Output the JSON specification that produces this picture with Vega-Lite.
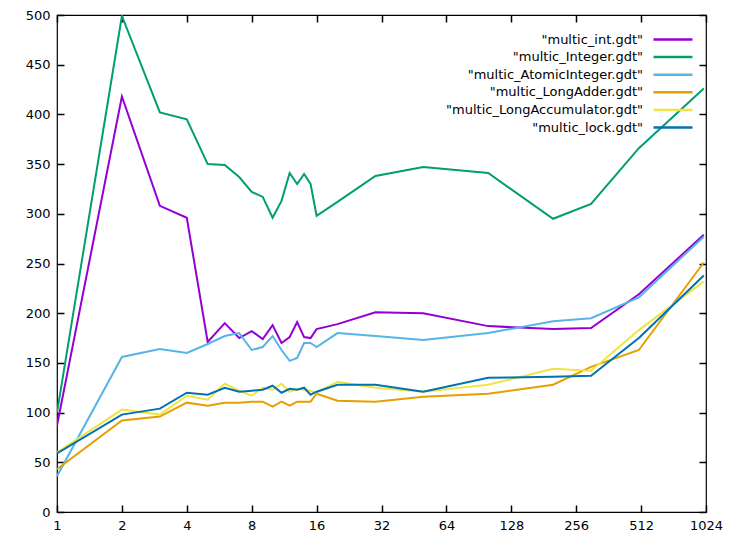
{
  "$schema": "https://vega.github.io/schema/vega-lite/v6.json",
  "width": 649,
  "height": 497,
  "autosize": "none",
  "padding": {"left": 57, "top": 15, "right": 34, "bottom": 22},
  "background": "white",
  "config": {
    "font": "DejaVu Sans",
    "view": {"stroke": "black", "strokeWidth": 1.2},
    "axis": {
      "grid": false,
      "domain": false,
      "labelFont": "DejaVu Sans",
      "labelFontSize": 13,
      "labelColor": "black",
      "labelFlush": false,
      "labelOverlap": false,
      "title": null
    }
  },
  "datasets": {
    "d": [
      {"s":"multic_int.gdt","x":1,"v":87},{"s":"multic_int.gdt","x":2,"v":418},{"s":"multic_int.gdt","x":3,"v":308},{"s":"multic_int.gdt","x":4,"v":296},{"s":"multic_int.gdt","x":5,"v":171},{"s":"multic_int.gdt","x":6,"v":190},{"s":"multic_int.gdt","x":7,"v":175},{"s":"multic_int.gdt","x":8,"v":182},{"s":"multic_int.gdt","x":9,"v":174},{"s":"multic_int.gdt","x":10,"v":188},{"s":"multic_int.gdt","x":11,"v":170},{"s":"multic_int.gdt","x":12,"v":176},{"s":"multic_int.gdt","x":13,"v":191},{"s":"multic_int.gdt","x":14,"v":176},{"s":"multic_int.gdt","x":15,"v":175},{"s":"multic_int.gdt","x":16,"v":184},{"s":"multic_int.gdt","x":20,"v":189},{"s":"multic_int.gdt","x":30,"v":201},{"s":"multic_int.gdt","x":50,"v":200},{"s":"multic_int.gdt","x":100,"v":187},{"s":"multic_int.gdt","x":200,"v":184},{"s":"multic_int.gdt","x":300,"v":185},{"s":"multic_int.gdt","x":500,"v":219},{"s":"multic_int.gdt","x":1000,"v":279},
      {"s":"multic_Integer.gdt","x":1,"v":100},{"s":"multic_Integer.gdt","x":2,"v":499},{"s":"multic_Integer.gdt","x":3,"v":402},{"s":"multic_Integer.gdt","x":4,"v":395},{"s":"multic_Integer.gdt","x":5,"v":350},{"s":"multic_Integer.gdt","x":6,"v":349},{"s":"multic_Integer.gdt","x":7,"v":337},{"s":"multic_Integer.gdt","x":8,"v":322},{"s":"multic_Integer.gdt","x":9,"v":317},{"s":"multic_Integer.gdt","x":10,"v":296},{"s":"multic_Integer.gdt","x":11,"v":313},{"s":"multic_Integer.gdt","x":12,"v":341},{"s":"multic_Integer.gdt","x":13,"v":330},{"s":"multic_Integer.gdt","x":14,"v":340},{"s":"multic_Integer.gdt","x":15,"v":330},{"s":"multic_Integer.gdt","x":16,"v":298},{"s":"multic_Integer.gdt","x":20,"v":312},{"s":"multic_Integer.gdt","x":30,"v":338},{"s":"multic_Integer.gdt","x":50,"v":347},{"s":"multic_Integer.gdt","x":100,"v":341},{"s":"multic_Integer.gdt","x":200,"v":295},{"s":"multic_Integer.gdt","x":300,"v":310},{"s":"multic_Integer.gdt","x":500,"v":366},{"s":"multic_Integer.gdt","x":1000,"v":426},
      {"s":"multic_AtomicInteger.gdt","x":1,"v":36},{"s":"multic_AtomicInteger.gdt","x":2,"v":156},{"s":"multic_AtomicInteger.gdt","x":3,"v":164},{"s":"multic_AtomicInteger.gdt","x":4,"v":160},{"s":"multic_AtomicInteger.gdt","x":5,"v":169},{"s":"multic_AtomicInteger.gdt","x":6,"v":177},{"s":"multic_AtomicInteger.gdt","x":7,"v":180},{"s":"multic_AtomicInteger.gdt","x":8,"v":163},{"s":"multic_AtomicInteger.gdt","x":9,"v":166},{"s":"multic_AtomicInteger.gdt","x":10,"v":177},{"s":"multic_AtomicInteger.gdt","x":11,"v":163},{"s":"multic_AtomicInteger.gdt","x":12,"v":152},{"s":"multic_AtomicInteger.gdt","x":13,"v":155},{"s":"multic_AtomicInteger.gdt","x":14,"v":170},{"s":"multic_AtomicInteger.gdt","x":15,"v":170},{"s":"multic_AtomicInteger.gdt","x":16,"v":166},{"s":"multic_AtomicInteger.gdt","x":20,"v":180},{"s":"multic_AtomicInteger.gdt","x":30,"v":177},{"s":"multic_AtomicInteger.gdt","x":50,"v":173},{"s":"multic_AtomicInteger.gdt","x":100,"v":180},{"s":"multic_AtomicInteger.gdt","x":200,"v":192},{"s":"multic_AtomicInteger.gdt","x":300,"v":195},{"s":"multic_AtomicInteger.gdt","x":500,"v":216},{"s":"multic_AtomicInteger.gdt","x":1000,"v":277},
      {"s":"multic_LongAdder.gdt","x":1,"v":43},{"s":"multic_LongAdder.gdt","x":2,"v":92},{"s":"multic_LongAdder.gdt","x":3,"v":96},{"s":"multic_LongAdder.gdt","x":4,"v":110},{"s":"multic_LongAdder.gdt","x":5,"v":107},{"s":"multic_LongAdder.gdt","x":6,"v":110},{"s":"multic_LongAdder.gdt","x":7,"v":110},{"s":"multic_LongAdder.gdt","x":8,"v":111},{"s":"multic_LongAdder.gdt","x":9,"v":111},{"s":"multic_LongAdder.gdt","x":10,"v":106},{"s":"multic_LongAdder.gdt","x":11,"v":111},{"s":"multic_LongAdder.gdt","x":12,"v":107},{"s":"multic_LongAdder.gdt","x":13,"v":111},{"s":"multic_LongAdder.gdt","x":14,"v":111},{"s":"multic_LongAdder.gdt","x":15,"v":111},{"s":"multic_LongAdder.gdt","x":16,"v":119},{"s":"multic_LongAdder.gdt","x":20,"v":112},{"s":"multic_LongAdder.gdt","x":30,"v":111},{"s":"multic_LongAdder.gdt","x":50,"v":116},{"s":"multic_LongAdder.gdt","x":100,"v":119},{"s":"multic_LongAdder.gdt","x":200,"v":128},{"s":"multic_LongAdder.gdt","x":300,"v":146},{"s":"multic_LongAdder.gdt","x":500,"v":163},{"s":"multic_LongAdder.gdt","x":1000,"v":251},
      {"s":"multic_LongAccumulator.gdt","x":1,"v":60},{"s":"multic_LongAccumulator.gdt","x":2,"v":103},{"s":"multic_LongAccumulator.gdt","x":3,"v":98},{"s":"multic_LongAccumulator.gdt","x":4,"v":117},{"s":"multic_LongAccumulator.gdt","x":5,"v":113},{"s":"multic_LongAccumulator.gdt","x":6,"v":129},{"s":"multic_LongAccumulator.gdt","x":7,"v":122},{"s":"multic_LongAccumulator.gdt","x":8,"v":117},{"s":"multic_LongAccumulator.gdt","x":9,"v":125},{"s":"multic_LongAccumulator.gdt","x":10,"v":123},{"s":"multic_LongAccumulator.gdt","x":11,"v":129},{"s":"multic_LongAccumulator.gdt","x":12,"v":121},{"s":"multic_LongAccumulator.gdt","x":13,"v":124},{"s":"multic_LongAccumulator.gdt","x":14,"v":123},{"s":"multic_LongAccumulator.gdt","x":15,"v":122},{"s":"multic_LongAccumulator.gdt","x":16,"v":120},{"s":"multic_LongAccumulator.gdt","x":20,"v":131},{"s":"multic_LongAccumulator.gdt","x":30,"v":125},{"s":"multic_LongAccumulator.gdt","x":50,"v":121},{"s":"multic_LongAccumulator.gdt","x":100,"v":128},{"s":"multic_LongAccumulator.gdt","x":200,"v":144},{"s":"multic_LongAccumulator.gdt","x":300,"v":142},{"s":"multic_LongAccumulator.gdt","x":500,"v":183},{"s":"multic_LongAccumulator.gdt","x":1000,"v":232},
      {"s":"multic_lock.gdt","x":1,"v":59},{"s":"multic_lock.gdt","x":2,"v":98},{"s":"multic_lock.gdt","x":3,"v":104},{"s":"multic_lock.gdt","x":4,"v":120},{"s":"multic_lock.gdt","x":5,"v":118},{"s":"multic_lock.gdt","x":6,"v":125},{"s":"multic_lock.gdt","x":7,"v":121},{"s":"multic_lock.gdt","x":8,"v":122},{"s":"multic_lock.gdt","x":9,"v":123},{"s":"multic_lock.gdt","x":10,"v":127},{"s":"multic_lock.gdt","x":11,"v":120},{"s":"multic_lock.gdt","x":12,"v":124},{"s":"multic_lock.gdt","x":13,"v":123},{"s":"multic_lock.gdt","x":14,"v":125},{"s":"multic_lock.gdt","x":15,"v":118},{"s":"multic_lock.gdt","x":16,"v":121},{"s":"multic_lock.gdt","x":20,"v":128},{"s":"multic_lock.gdt","x":30,"v":128},{"s":"multic_lock.gdt","x":50,"v":121},{"s":"multic_lock.gdt","x":100,"v":135},{"s":"multic_lock.gdt","x":200,"v":136},{"s":"multic_lock.gdt","x":300,"v":137},{"s":"multic_lock.gdt","x":500,"v":175},{"s":"multic_lock.gdt","x":1000,"v":238}
    ]
  },
  "data": {"name": "d"},
  "layer": [
    {
      "mark": {"type": "line", "strokeWidth": 2, "clip": true},
      "encoding": {
        "x": {"field": "x", "type": "quantitative",
              "scale": {"type": "log", "base": 2, "domain": [1, 1024], "nice": false},
              "axis": {"orient": "bottom", "values": [1,2,4,8,16,32,64,128,256,512,1024], "format": "d", "labelPadding": 7, "offset": -7, "ticks": true, "tickSize": 7, "tickColor": "black", "tickWidth": 1.5}},
        "y": {"field": "v", "type": "quantitative",
              "scale": {"domain": [0, 500], "nice": false, "zero": false},
              "axis": {"orient": "left", "values": [0,50,100,150,200,250,300,350,400,450,500], "labelPadding": 7, "offset": -7, "ticks": true, "tickSize": 7, "tickColor": "black", "tickWidth": 1.5}},
        "color": {"field": "s", "type": "nominal",
                  "scale": {"domain": ["multic_int.gdt","multic_Integer.gdt","multic_AtomicInteger.gdt","multic_LongAdder.gdt","multic_LongAccumulator.gdt","multic_lock.gdt"],
                            "range": ["#9400d3","#009e73","#56b4e9","#e69f00","#f0e442","#0072b2"]},
                  "legend": {"orient": "none", "legendX": 608, "legendY": 16.5, "title": null,
                             "symbolType": "M-3,0H3", "symbolSize": 169, "symbolStrokeWidth": 2.5,
                             "rowPadding": 2.6, "padding": 0,
                             "labelAlign": "right", "labelOffset": -38,
                             "labelFont": "DejaVu Sans", "labelFontSize": 13, "labelColor": "black",
                             "labelLimit": 400,
                             "labelExpr": "'\"' + datum.label + '\"'"}}
      }
    },
    {
      "mark": {"type": "point", "opacity": 0},
      "encoding": {
        "x": {"field": "x", "type": "quantitative",
              "axis": {"orient": "top", "values": [1,2,4,8,16,32,64,128,256,512,1024], "labels": false, "offset": -7, "ticks": true, "tickSize": 7, "tickColor": "black", "tickWidth": 1.5}},
        "y": {"field": "v", "type": "quantitative",
              "axis": {"orient": "right", "values": [0,50,100,150,200,250,300,350,400,450,500], "labels": false, "offset": -7, "ticks": true, "tickSize": 7, "tickColor": "black", "tickWidth": 1.5}}
      }
    }
  ]
}
